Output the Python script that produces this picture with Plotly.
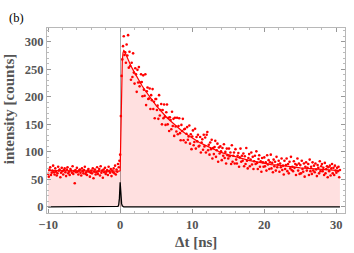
import numpy as np
import plotly.graph_objects as go

# time bins (ns), 0.1 ns bins from -10.0 to 30.5
t_start, t_step, n_bins = -10.0, 0.1, 406
t_bins = np.round(t_start + t_step * np.arange(n_bins), 2)

counts = [
    60, 55, 68, 72, 58, 62, 66, 75, 63, 59,
    70, 64, 57, 61, 73, 66, 68, 54, 62, 71,
    65, 59, 67, 70, 63, 56, 68, 72, 61, 64,
    58, 69, 66, 62, 74, 60, 65, 43, 67, 63,
    71, 64, 59, 66, 68, 62, 57, 70, 65, 61,
    67, 73, 60, 63, 58, 66, 69, 64, 55, 62,
    66, 61, 70, 52, 64, 68, 59, 63, 72, 60,
    65, 69, 57, 74, 62, 66, 53, 68, 63, 71,
    60, 64, 67, 58, 73, 65, 62, 69, 56, 66,
    63, 70, 61, 75, 59, 68, 64, 78, 72, 84,
    95, 165, 238, 268, 292, 310, 276, 281, 262, 295,
    275, 312, 253, 282, 256, 231, 262, 236, 279, 244,
    224, 252, 241, 209, 249, 226, 254, 219, 226, 241,
    227, 201, 239, 213, 202, 241, 185, 210, 217, 196,
    197, 215, 178, 203, 194, 214, 178, 191, 161, 196,
    196, 176, 184, 160, 203, 166, 176, 187, 150, 176,
    161, 186, 164, 149, 172, 186, 150, 162, 138, 163,
    158, 141, 173, 147, 160, 129, 162, 146, 137, 162,
    132, 147, 161, 134, 121, 149, 138, 160, 121, 141,
    142, 117, 133, 145, 122, 128, 148, 115, 132, 105,
    128, 139, 112, 118, 142, 106, 127, 119, 131, 110,
    111, 127, 99, 117, 123, 104, 131, 110, 126, 99,
    131, 136, 103, 113, 95, 117, 105, 122, 88, 107,
    96, 109, 120, 91, 103, 115, 82, 108, 97, 110,
    101, 85, 107, 93, 114, 89, 100, 79, 106, 94,
    88, 106, 92, 99, 78, 112, 82, 93, 99, 79,
    105, 86, 79, 93, 98, 73, 90, 106, 82, 93,
    84, 97, 74, 92, 78, 107, 84, 70, 89, 96,
    74, 86, 99, 77, 91, 69, 83, 93, 78, 101,
    80, 69, 87, 94, 73, 83, 64, 89, 81, 73,
    90, 74, 81, 66, 94, 77, 85, 69, 81, 95,
    70, 80, 63, 86, 74, 82, 66, 91, 72, 77,
    84, 64, 79, 72, 88, 67, 75, 59, 84, 69,
    76, 88, 65, 78, 61, 82, 70, 91, 67, 73,
    65, 83, 71, 78, 58, 76, 88, 66, 79, 60,
    76, 61, 84, 69, 64, 79, 55, 73, 81, 66,
    71, 78, 58, 86, 65, 73, 60, 81, 66, 75,
    63, 79, 68, 56, 76, 71, 61, 83, 65, 74,
    78, 65, 71, 58, 80, 61, 69, 74, 54, 72,
    65, 75, 57, 70, 78, 61, 71, 58, 75, 66,
    62, 71, 65, 73, 54, 67,
]

# fitted curve
fit_t = [-10, -5, -0.1, 0.0, 0.1, 0.2, 0.3, 0.4, 0.5, 0.6, 0.8, 1.0, 1.5, 2.0, 2.5,
         3.0, 3.5, 4.0, 4.5, 5.0, 5.5, 6.0, 6.5, 7.0, 7.5, 8.0, 8.5, 9.0, 9.5, 10,
         11, 12, 13, 14, 15, 16, 17, 18, 19, 20, 21, 22, 23, 24, 25, 26, 27, 28,
         29, 30, 30.5]
fit_y = [66, 65, 65, 66, 150, 228, 266, 280, 284, 283, 277, 270, 256, 244, 232,
         221, 211, 201, 193, 184, 176, 169, 162, 156, 150, 144, 139, 134, 130, 125,
         117, 111, 105, 99, 95, 91, 87, 84, 82, 79, 77, 76, 74, 73, 71, 70, 69, 69,
         68, 67, 66]

# instrument response function
irf_t = [-10, -0.4, -0.3, -0.2, -0.1, 0.0, 0.1, 0.2, 0.3, 0.4, 0.5, 30.5]
irf_y = [0, 0, 1, 4, 16, 45, 20, 6, 2, 0.5, 0, 0]

x_ticks = [-10, 0, 10, 20, 30]
y_ticks = [0, 50, 100, 150, 200, 250, 300]

fig = go.Figure()
fig.add_trace(go.Scatter(x=fit_t, y=fit_y, mode="lines", fill="tozeroy",
                         fillcolor="rgba(255,0,0,0.12)",
                         line=dict(color="red", width=1.2), hoverinfo="skip"))
fig.add_trace(go.Scatter(x=t_bins, y=counts, mode="markers",
                         marker=dict(color="red", size=2.6, line=dict(width=0))))
fig.add_trace(go.Scatter(x=irf_t, y=irf_y, mode="lines",
                         line=dict(color="black", width=1.3)))

tickfont = dict(family="Liberation Serif", size=12.5, color="#555555", weight="bold")
axis_common = dict(showline=True, linecolor="#b8b8b8", linewidth=1, mirror="allticks",
                   ticks="inside", ticklen=4, tickcolor="#999999", tickwidth=0.8,
                   showgrid=False, tickfont=tickfont)

fig.update_xaxes(range=[-10.15, 31.2], tickvals=x_ticks, zeroline=True,
                 zerolinecolor="#aaaaaa", zerolinewidth=1,
                 minor=dict(dtick=2, ticks="inside", ticklen=2, tickcolor="#bbbbbb"),
                 **axis_common)
fig.update_yaxes(range=[-11, 325], tickvals=y_ticks, zeroline=False,
                 minor=dict(dtick=10, ticks="inside", ticklen=2, tickcolor="#bbbbbb"),
                 **axis_common)

titlefont = dict(family="Liberation Serif", size=15, color="#555555", weight="bold")
fig.update_layout(
    width=354, height=253, showlegend=False,
    margin=dict(l=47, r=9, t=28, b=40),
    plot_bgcolor="white", paper_bgcolor="white",
    annotations=[
        dict(text="(b)", x=-0.134, y=1.10, xref="paper", yref="paper", showarrow=False,
             xanchor="left", yanchor="top",
             font=dict(family="Liberation Serif", size=12.5, color="black")),
        dict(text="Δt [ns]", x=0.5, y=-0.1, xref="paper", yref="paper",
             showarrow=False, xanchor="center", yanchor="top", font=titlefont),
        dict(text="intensity [counts]", x=-0.125, y=0.56, xref="paper", yref="paper",
             showarrow=False, textangle=-90, xanchor="center", yanchor="middle",
             font=titlefont),
    ],
)

fig.write_html("out.html", config={"displayModeBar": False},
               post_script="document.body.style.margin='0';")
